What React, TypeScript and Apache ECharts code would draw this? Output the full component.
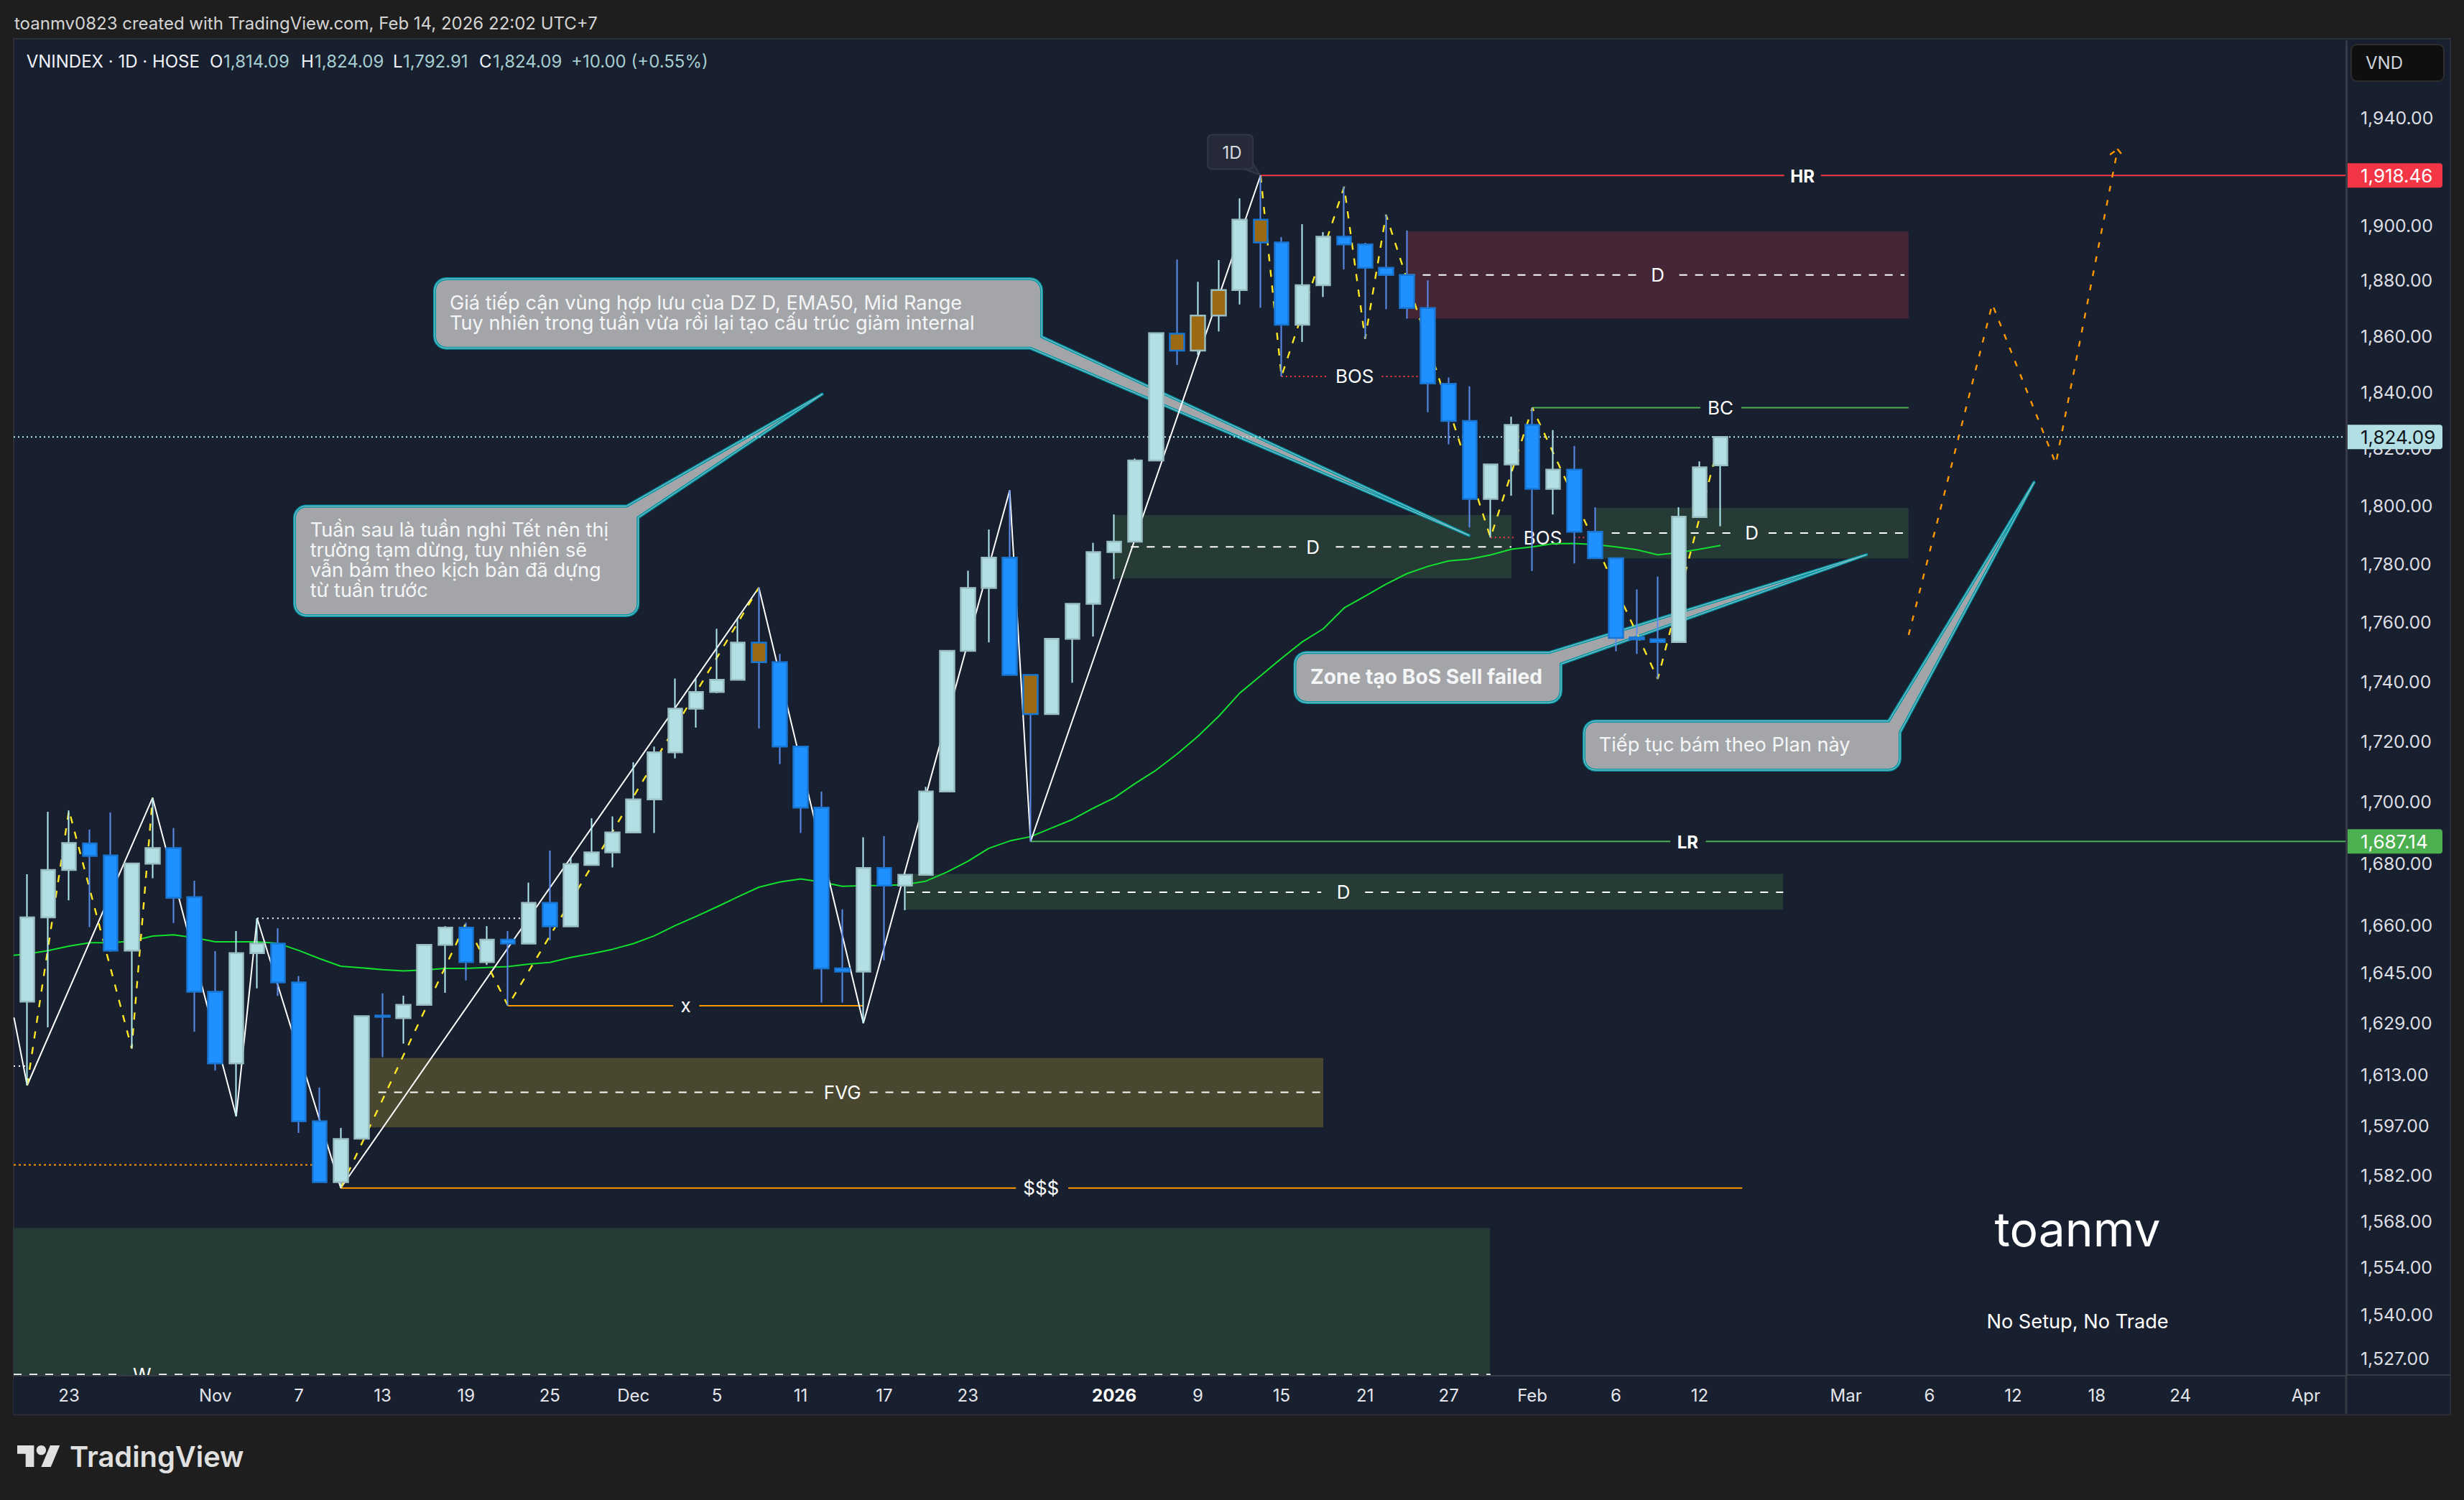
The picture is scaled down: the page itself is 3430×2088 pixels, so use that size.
import React, { useEffect, useRef } from "react";
import * as echarts from "echarts";

const FONT = "Inter, 'Noto Sans', sans-serif";
const PLOT_BG = "#181f2e";

// ---- daily bars ----
const opens = [1635.8,1662.6,1677.9,1686.5,1682.6,1652,1679.9,1685,1669.1,1638.9,1616.4,1651.2,1654.2,1641.9,1598.5,1579.8,1593.1,1631.4,1630.6,1634.8,1653.8,1659.3,1648.3,1655.5,1654.2,1667.3,1659.7,1679.5,1683.6,1690.1,1700.9,1716.4,1730.9,1736.5,1740.6,1753.1,1746.5,1718.3,1698.2,1646.3,1645.3,1678.5,1672.8,1676.3,1703.5,1750.3,1771.7,1782.1,1742.2,1729.1,1754.4,1766.3,1784,1787.6,1815.8,1860.8,1854.7,1867.3,1876.5,1902.2,1893.8,1864,1878.3,1895.9,1893.1,1884.6,1882,1870,1842.9,1829.7,1802.4,1814.4,1828.3,1805.9,1812.6,1791,1781.9,1754.9,1754.3,1753.3,1796.1,1814.09];
const closes = [1662.6,1677.9,1686.6,1682.4,1652,1680,1685,1668.9,1638.9,1616.4,1651.2,1654.2,1641.9,1598.5,1579.8,1593,1631.2,1631,1634.8,1653.8,1659.3,1648.3,1655.5,1654.2,1667.3,1659.7,1679.8,1683.6,1690.1,1700.9,1716.4,1730.9,1736.5,1740.6,1753.1,1746.5,1718.3,1698.2,1646.3,1645.3,1678.5,1672.8,1676.3,1703.5,1750.3,1771.7,1782.1,1742.2,1729.1,1754.4,1766.3,1784,1787.6,1815.8,1861,1854.7,1867.3,1876.5,1902.2,1893.8,1864,1878.3,1895.9,1893.1,1884.6,1882,1870,1843,1829.7,1802.4,1814.4,1828.3,1805.9,1812.6,1791,1781.9,1754.7,1754.2,1753.3,1796.2,1813.4,1824.09];
const lows = [1609.6,1627.7,1668.1,1659.5,1651.6,1621.1,1675.2,1660.8,1626.3,1614.2,1600,1640,1637.6,1594.9,1579.8,1578,1593.1,1618.4,1622.6,1634.5,1638.6,1642.5,1647.4,1634.5,1654.2,1655.3,1659.7,1679.5,1678.7,1690.1,1689.9,1714.4,1724.6,1736.1,1740.6,1724.3,1712.5,1689.9,1635.5,1635.5,1629,1648.9,1664.9,1676.3,1703.5,1750.3,1753.2,1742.2,1687.14,1729.1,1739.6,1755.2,1774.7,1787.6,1815.8,1849.6,1853.1,1861.6,1871.3,1870.1,1845.5,1857.8,1874,1884,1858.9,1869.6,1866.2,1832.8,1821.5,1792.5,1789,1803.5,1777.5,1797,1780.1,1781.6,1750.2,1749.3,1740.9,1753.3,1796.1,1792.91];
const highs = [1676.5,1696.8,1697.3,1691,1696.6,1680.1,1701.4,1691.5,1674.4,1651.8,1658.2,1662.3,1659.1,1643.9,1608.9,1596.4,1631.2,1638.4,1637.7,1653.9,1659.8,1660.9,1659.8,1658.2,1673.8,1684.2,1681.9,1694.7,1695.3,1713.1,1718.3,1741,1741,1757.8,1761.2,1771.8,1749.3,1718.3,1703.4,1665.2,1688.5,1688.9,1676.7,1705,1750.3,1777.6,1791.8,1805.4,1742.2,1754.4,1766.3,1787.2,1797,1816.5,1861,1887.6,1879.5,1887.4,1910,1918.46,1895.8,1900.5,1897.6,1914.3,1893.7,1904,1898.2,1880,1845.1,1842,1814.4,1831.2,1834.4,1826.5,1820.9,1799.5,1781.9,1771.2,1775.6,1799.5,1815.5,1824.09];
const ochreBars = [35, 48, 55, 56, 57, 59];
const ema50 = [1650.9,1652,1653.4,1654.5,1654.5,1655,1656.6,1657,1656.1,1654.8,1654.8,1654.8,1654.3,1652,1649.4,1647,1646.5,1645.9,1645.5,1645.8,1646.3,1646.3,1646.6,1646.9,1647.7,1648.2,1649.8,1651,1652.4,1654.2,1656.7,1660,1662.9,1666,1669.2,1672.3,1674,1675,1674,1672.6,1672.8,1672.9,1673.1,1674.3,1677.2,1680.7,1684.9,1687.3,1688.7,1691.5,1694.3,1698,1701.4,1706.1,1710.5,1715.8,1721.7,1728.4,1736.1,1741.9,1747.8,1753.4,1757.8,1764.9,1768.9,1773,1776.6,1779.1,1781,1781.6,1783,1785,1785.8,1786.9,1787,1786.6,1785.8,1784.8,1783.1,1783.8,1785,1786.3];

// ---- axes ----
const X_MIN = -0.646;
const X_MAX = 110.93;
const Y_MIN = 1522;
const Y_MAX = 1968.9;
const xTickIdx = [2,9,13,17,21,25,29,33,37,41,45,52,56,60,64,68,72,76,80,87,91,95,99,103,109];
const xTickLabels = ["23","Nov","7","13","19","25","Dec","5","11","17","23","2026","9","15","21","27","Feb","6","12","Mar","6","12","18","24","Apr"];
const yTicks = [1527,1540,1554,1568,1582,1597,1613,1629,1645,1660,1680,1700,1720,1740,1760,1780,1800,1820,1840,1860,1880,1900,1940];
const priceTags = [1918.46, 1824.09, 1687.14];
const tagFill = ["#f23645", "#b2dfe4", "#4caf50"];
const tagInk = ["#ffffff", "#10141c", "#ffffff"];

// ---- drawings ----
const whiteZigzag = [[-0.63,1630.8],[0,1609.6],[6,1701.4],[10,1600],[11,1662.3],[15,1578],[35,1771.8],[40,1629],[47,1805.4],[48,1687.14],[59,1918.46]];
const yellowA = [[0,1609.6],[2,1697.3],[5,1621.1],[6,1701.4]];
const yellowB = [[15,1578],[21,1660.9],[23,1634.5],[35,1771.8]];
const yellowC = [[59,1918.46],[60,1845.5],[63,1914.3],[64,1858.9],[65,1904],[70,1789],[72,1834.4],[78,1740.9],[81,1824.09]];
const planPath = [[90,1755.7],[94,1871.4],[97.04,1814.7],[100,1928.2],[100.3,1925.3]];
const planTick = [[99.63,1926.2],[100,1928.2]];

// kind, x0, x1, top, bottom
const zones: [string, number, number, number, number][] = [
  ["supply", 66, 90, 1897.9, 1866.2],
  ["demand", 52, 71, 1796.8, 1775],
  ["demand", 75, 90, 1799.3, 1781.8],
  ["demand", 42, 84, 1676.6, 1665.1],
  ["fvg", 16.4, 62, 1618.1, 1596.6],
  ["demand", X_MIN, 69.97, 1565.9, Y_MIN],
];

// style, x0, gapStart, gapEnd, x1, price
const levels: [string, number, number, number, number, number][] = [
  ["hr", 59, 84.05, 85.8, X_MAX, 1918.46],
  ["lr", 48, 78.6, 80.3, X_MAX, 1687.14],
  ["bc", 72, 80.04, 82, 90, 1834.4],
  ["liq", 15, 47.3, 49.8, 82.04, 1578],
  ["liq", 23, 30.9, 32.15, 40, 1634.5],
  ["bos", 60, 62.2, 64.8, 66.6, 1845.5],
  ["bos", 70, 71.1, 74, 75, 1789],
  ["mid", 66, 76.97, 79.03, 89.8, 1882],
  ["mid", 52.8, 60.7, 62.6, 71, 1785.8],
  ["mid", 75.8, 81.85, 83.3, 89.8, 1790.6],
  ["mid", 42.06, 61.9, 64, 84, 1670.7],
  ["mid", 16.8, 37.7, 40.3, 62, 1607.4],
  ["mid", X_MIN, 4.65, 6.3, 70, 1522.25],
];
// x0, x1, price
const dottedWhite = [[11, 23.6, 1662.3], [X_MIN, -0.1, 1615.6]];
const dottedOrange = [[X_MIN, 13.65, 1585.1]];
const lastPrice = 1824.09;

// text, x, price, style
const notes: [string, number, number, string][] = [
  ["HR", 84.92, 1918.2, "bold"],
  ["LR", 79.43, 1686.9, "bold"],
  ["BC", 81, 1834.4, "plain"],
  ["BOS", 63.5, 1845.5, "plain"],
  ["BOS", 72.5, 1788.9, "plain"],
  ["D", 78, 1882, "plain"],
  ["D", 61.5, 1785.8, "plain"],
  ["D", 82.5, 1790.6, "plain"],
  ["D", 62.96, 1670.7, "plain"],
  ["FVG", 39, 1607.4, "plain"],
  ["x", 31.5, 1634.5, "plain"],
  ["$$$", 48.5, 1578, "plain"],
  ["W", 5.5, 1522.25, "plain"],
  ["toanmv", 98.08, 1565.5, "huge"],
  ["No Setup, No Trade", 98.08, 1537.8, "small"],
];

// anchor (top-left) and tip of each speech bubble
const bubbleAnchors = [[19.49,1880.6],[12.79,1799.9],[60.64,1749.8],[74.47,1726.8]];
const bubbleTips = [[68.97,1789.75],[38.03,1839.2],[87.98,1783.1],[96,1808.2]];
const bubbleTexts = [
  ["Giá tiếp cận vùng hợp lưu của DZ D, EMA50, Mid Range", "Tuy nhiên trong tuần vừa rồi lại tạo cấu trúc giảm internal"],
  ["Tuần sau là tuần nghỉ Tết nên thị", "trường tạm dừng, tuy nhiên sẽ", "vẫn bám theo kịch bản đã dựng", "từ tuần trước"],
  ["Zone tạo BoS Sell failed"],
  ["Tiếp tục bám theo Plan này"],
];
const bubbleSizes = [[845, 96.6],[478.3, 152.4],[370.5, 69.7],[440, 68.3]];
const bubbleCorner = ["br", "tr", "tr", "tr"];
const bubbleTextOffset = [[21, 33],[21.7, 32.7],[21.5, 34],[20.7, 32.5]];
const bubbleWeight = [400, 400, 700, 400];
const bubbleFontSize = [27.2, 27.2, 28.2, 27.2];
const flagAnchor = [56.47, 1933.6];
const flagTip = [59, 1918.46];

const fmtPrice = (v: number) =>
  v.toFixed(2).replace(/\B(?=(\d{3})(?!\d))/g, ",");

const levelStyle: Record<string, any> = {
  hr: { color: "#f23645", width: 2, type: "solid" },
  lr: { color: "#4caf50", width: 2, type: "solid" },
  bc: { color: "#4caf50", width: 2, type: "solid" },
  liq: { color: "#ff9800", width: 2, type: "solid" },
  bos: { color: "#f23645", width: 2, type: [2, 4] },
  mid: { color: "#ffffff", width: 2, type: [11, 11] },
};
const zoneFill: Record<string, string> = { supply: "#452636", demand: "#263a36", fvg: "#49472f" };

function line(name: string, data: number[][], lineStyle: any, z = 2) {
  return { type: "line", name, data, symbol: "none", showSymbol: false, silent: true, lineStyle, z, clip: true };
}

function roundedCorner(cx: number, cy: number, r: number, a0: number) {
  const pts: number[][] = [];
  for (let k = 0; k <= 5; k++) {
    const a = a0 + (k / 5) * (Math.PI / 2);
    pts.push([cx + r * Math.cos(a), cy + r * Math.sin(a)]);
  }
  return pts;
}

function bubblePoints(x: number, y: number, w: number, h: number, tip: number[], corner: string) {
  const r = 16;
  const R = x + w;
  const B = y + h;
  const pts: number[][] = [];
  pts.push(...roundedCorner(x + r, y + r, r, Math.PI));
  if (corner === "tr") {
    pts.push([R - r, y], tip, [R, y + r]);
  } else {
    pts.push(...roundedCorner(R - r, y + r, r, -Math.PI / 2));
  }
  if (corner === "br") {
    pts.push([R, B - r], tip, [R - r, B]);
  } else {
    pts.push(...roundedCorner(R - r, B - r, r, 0));
  }
  pts.push(...roundedCorner(x + r, B - r, r, Math.PI / 2));
  return pts;
}

function buildOption() {
  const idx = opens.map((_, i) => i);
  const isOchre = (i: number) => ochreBars.includes(i);
  const wicks = idx.map((i) => [i, opens[i], closes[i], lows[i], highs[i]]);
  const bodies = idx.map((i) => {
    const lo = Math.min(opens[i], closes[i]);
    const hi = Math.max(opens[i], closes[i]);
    const value = [i, opens[i], closes[i], lo, hi];
    return isOchre(i)
      ? { value, itemStyle: { color: "#9c6a12", color0: "#9c6a12" } }
      : { value };
  });

  const series: any[] = [];

  series.push({
    type: "custom",
    name: "zones",
    z: 2,
    silent: true,
    clip: true,
    data: zones.map((z) => [z[1], z[3]]),
    renderItem: (p: any, api: any) => {
      const z = zones[p.dataIndex];
      const a = api.coord([z[1], z[3]]);
      const b = api.coord([z[2], z[4]]);
      return {
        type: "rect",
        shape: { x: a[0], y: a[1], width: b[0] - a[0], height: b[1] - a[1] },
        style: { fill: zoneFill[z[0]] },
      };
    },
  });

  series.push(line("last price", [[X_MIN, lastPrice], [X_MAX, lastPrice]], { color: "#b2ebf2", width: 2, type: [2, 4] }));
  dottedWhite.forEach((d, i) =>
    series.push(line("swing " + i, [[d[0], d[2]], [d[1], d[2]]], { color: "#ffffff", width: 2, type: [2, 5] }))
  );
  dottedOrange.forEach((d, i) =>
    series.push(line("sweep " + i, [[d[0], d[2]], [d[1], d[2]]], { color: "#ff9800", width: 2, type: [3, 4] }))
  );

  levels.forEach((l, i) => {
    const st = levelStyle[l[0]];
    series.push(line(l[0] + i + "a", [[l[1], l[5]], [l[2], l[5]]], st));
    series.push(line(l[0] + i + "b", [[l[3], l[5]], [l[4], l[5]]], st));
  });

  series.push(line("EMA50", [[X_MIN, 1650.5], ...ema50.map((v, i) => [i, v])], { color: "#12e02e", width: 2 }));
  series.push(line("zigzag", whiteZigzag, { color: "#ffffff", width: 2 }));
  [yellowA, yellowB, yellowC].forEach((d, i) =>
    series.push(line("internal " + i, d, { color: "#fde725", width: 2.4, type: [10, 12] }))
  );
  series.push(line("plan", planPath, { color: "#ff9800", width: 2.4, type: [8, 12] }));
  series.push(line("plan tick", planTick, { color: "#ff9800", width: 2.4, type: [8, 4] }));

  series.push({
    type: "custom",
    name: "bubbles",
    z: 2,
    silent: true,
    clip: false,
    data: bubbleAnchors.map((a) => a),
    renderItem: (p: any, api: any) => {
      const i = p.dataIndex;
      const a = api.coord(bubbleAnchors[i]);
      const tip = api.coord(bubbleTips[i]);
      const pts = bubblePoints(a[0], a[1], bubbleSizes[i][0], bubbleSizes[i][1], tip, bubbleCorner[i]);
      const lines = bubbleTexts[i].map((t, k) => ({
        type: "text",
        x: a[0] + bubbleTextOffset[i][0],
        y: a[1] + bubbleTextOffset[i][1] + k * 28,
        style: {
          text: t,
          fill: "#f4f5f6",
          fontSize: bubbleFontSize[i],
          fontFamily: FONT,
          fontWeight: bubbleWeight[i],
          align: "left",
          verticalAlign: "middle",
        },
      }));
      return {
        type: "group",
        children: [
          { type: "polygon", shape: { points: pts }, style: { fill: "#a3a5a9", stroke: "#0097a7", lineWidth: 4, lineJoin: "round" } },
          { type: "polygon", shape: { points: pts }, style: { fill: "none", stroke: "#9fc6c9", lineWidth: 1, lineJoin: "round" } },
          ...lines,
        ],
      };
    },
  });

  series.push({
    type: "custom",
    name: "flag",
    z: 2,
    silent: true,
    clip: false,
    data: [flagAnchor],
    renderItem: (_p: any, api: any) => {
      const a = api.coord(flagAnchor);
      const tip = api.coord(flagTip);
      const pts = [[a[0] + 52, a[1] + 48], tip, [a[0] + 63, a[1] + 40]];
      return {
        type: "group",
        children: [
          { type: "polygon", shape: { points: pts }, style: { fill: "#262a38", stroke: "#32364a", lineWidth: 2 } },
          { type: "rect", shape: { x: a[0], y: a[1], width: 63, height: 48, r: 6 }, style: { fill: "#262a38", stroke: "#32364a", lineWidth: 2 } },
          { type: "text", x: a[0] + 34, y: a[1] + 25, style: { text: "1D", fill: "#d8dae0", fontSize: 24, fontFamily: FONT, align: "center", verticalAlign: "middle" } },
        ],
      };
    },
  });

  series.push({
    type: "custom",
    name: "notes",
    z: 2,
    silent: true,
    clip: false,
    data: notes.map((n) => [n[1], n[2]]),
    renderItem: (p: any, api: any) => {
      const n = notes[p.dataIndex];
      const c = api.coord([n[1], n[2]]);
      const kind = n[3];
      return {
        type: "text",
        x: c[0],
        y: c[1],
        style: {
          text: n[0],
          fill: "#ffffff",
          fontSize: kind === "huge" ? 66 : kind === "bold" ? 24 : kind === "small" ? 27.2 : 26,
          fontWeight: kind === "bold" ? 700 : 400,
          fontFamily: FONT,
          align: "center",
          verticalAlign: "middle",
        },
      };
    },
  });

  series.push({
    type: "candlestick",
    name: "VNINDEX wicks",
    z: 4,
    silent: true,
    barWidth: 1,
    data: wicks,
    itemStyle: { color: "#b2ebf2", color0: "#5b8def", borderColor: "#b2ebf2", borderColor0: "#5b8def", borderWidth: 2 },
  });
  series.push({
    type: "candlestick",
    name: "VNINDEX",
    z: 4,
    silent: true,
    barWidth: 20,
    data: bodies,
    itemStyle: { color: "#b2dfe4", color0: "#1e90ff", borderColor: "#99bfc2", borderColor0: "#1976d2", borderWidth: 2.5 },
  });

  series.push({
    type: "custom",
    name: "price tags",
    z: 7,
    silent: true,
    clip: false,
    data: priceTags.map((v) => [X_MAX, v]),
    renderItem: (p: any, api: any) => {
      const i = p.dataIndex;
      const c = api.coord([X_MAX, priceTags[i]]);
      return {
        type: "group",
        children: [
          { type: "rect", shape: { x: c[0] + 2, y: c[1] - 17, width: 132, height: 34, r: [0, 4, 4, 0] }, style: { fill: tagFill[i] } },
          { type: "text", x: c[0] + 20, y: c[1], style: { text: fmtPrice(priceTags[i]), fill: tagInk[i], fontSize: 26, fontFamily: FONT, align: "left", verticalAlign: "middle" } },
        ],
      };
    },
  });

  const txt = (text: string, x: number, y: number, fill: string, fontSize = 24, fontWeight = 400) => ({
    type: "text",
    x,
    y,
    z: 8,
    silent: true,
    style: { text, fill, fontSize, fontWeight, fontFamily: FONT, align: "left", verticalAlign: "middle" },
  });
  const VAL = "#a6cdd0";
  const HEAD = "#f0f3fa";

  const graphic = [
    { type: "rect", z: -2, silent: true, shape: { x: 19, y: 54, width: 3392, height: 1915 }, style: { fill: PLOT_BG, stroke: "#2c2f38", lineWidth: 2 } },
    { type: "rect", z: 3, silent: true, shape: { x: 19, y: 1914.5, width: 3391, height: 54 }, style: { fill: PLOT_BG } },
    { type: "rect", z: 3, silent: true, shape: { x: 3268, y: 55, width: 142, height: 1913 }, style: { fill: PLOT_BG } },
    { type: "line", z: 6, silent: true, shape: { x1: 3266, y1: 1914, x2: 3411, y2: 1914 }, style: { stroke: "#363a45", lineWidth: 2 } },
    { type: "line", z: 6, silent: true, shape: { x1: 3266, y1: 1914, x2: 3266, y2: 1968 }, style: { stroke: "#363a45", lineWidth: 3 } },
    { type: "rect", z: 8, silent: true, shape: { x: 3273, y: 62, width: 129, height: 51, r: 8 }, style: { fill: "#0f0f0f", stroke: "#2e2e2e", lineWidth: 2 } },
    txt("VND", 3293, 87, "#d1d4dc", 24),
    txt("toanmv0823 created with TradingView.com, Feb 14, 2026 22:02 UTC+7", 20, 32, "#d4d4d4", 24),
    txt("VNINDEX · 1D · HOSE", 36.7, 85.7, HEAD, 24),
    txt("O", 292, 85.7, HEAD, 24),
    txt("1,814.09", 311, 85.7, VAL, 24),
    txt("H", 419, 85.7, HEAD, 24),
    txt("1,824.09", 438, 85.7, VAL, 24),
    txt("L", 547, 85.7, HEAD, 24),
    txt("1,792.91", 561, 85.7, VAL, 24),
    txt("C", 667, 85.7, HEAD, 24),
    txt("1,824.09", 686, 85.7, VAL, 24),
    txt("+10.00 (+0.55%)", 795, 85.7, VAL, 24),
    {
      type: "group",
      x: 24,
      y: 2005.3,
      scaleX: 1.67,
      scaleY: 1.67,
      silent: true,
      children: [
        { type: "polygon", z: 8, shape: { points: [[0, 4], [14, 4], [14, 22], [7, 22], [7, 11], [0, 11]] }, style: { fill: "#e0e0e0" } },
        { type: "polygon", z: 8, shape: { points: [[27.5, 4], [35.5, 4], [28, 22], [20, 22]] }, style: { fill: "#e0e0e0" } },
        { type: "circle", z: 8, shape: { cx: 20, cy: 8, r: 4 }, style: { fill: "#e0e0e0" } },
      ],
    },
    txt("TradingView", 97, 2027, "#e0e0e0", 39.8, 600),
  ];

  return {
    animation: false,
    backgroundColor: "transparent",
    grid: { left: 19, right: 164, top: 57, bottom: 173.5, show: false },
    tooltip: { show: false },
    legend: { show: false },
    xAxis: {
      type: "value",
      min: X_MIN,
      max: X_MAX,
      z: 5,
      splitLine: { show: false },
      axisTick: { show: false },
      axisLine: { show: true, onZero: false, lineStyle: { color: "#363a45", width: 2 } },
      axisLabel: {
        customValues: xTickIdx,
        color: "#e4e6ec",
        fontSize: 24,
        fontFamily: FONT,
        margin: 15.5,
        hideOverlap: false,
        formatter: (v: number) => {
          const t = xTickLabels[xTickIdx.indexOf(Math.round(v))];
          return t === "2026" ? "{y|2026}" : t;
        },
        rich: { y: { fontWeight: 700, fontSize: 24, fontFamily: FONT, color: "#ffffff" } },
      },
    },
    yAxis: {
      type: "log",
      logBase: 10,
      min: Y_MIN,
      max: Y_MAX,
      position: "right",
      z: 5,
      splitLine: { show: false },
      axisTick: { show: false },
      axisLine: { show: true, onZero: false, lineStyle: { color: "#363a45", width: 3 } },
      axisLabel: {
        customValues: yTicks,
        color: "#dcdee4",
        fontSize: 24.8,
        fontFamily: FONT,
        margin: 20,
        hideOverlap: false,
        formatter: (v: number) => fmtPrice(v),
      },
    },
    graphic: { elements: graphic },
    series,
  };
}

export default function App() {
  const ref = useRef<HTMLDivElement>(null);
  useEffect(() => {
    document.body.style.margin = "0";
    document.body.style.background = "#1e1e1e";
    const chart = echarts.init(ref.current!, undefined, { renderer: "svg" });
    chart.setOption(buildOption() as any);
    return () => chart.dispose();
  }, []);
  return <div ref={ref} style={{ width: 3430, height: 2088, background: "#1e1e1e", overflow: "hidden" }} />;
}
